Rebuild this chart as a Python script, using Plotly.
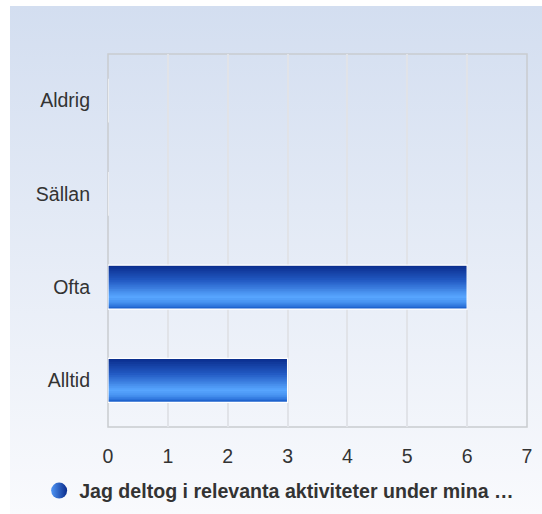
import base64
import plotly.graph_objects as go

categories = ["Aldrig", "Sällan", "Ofta", "Alltid"]
values = [0, 0, 6, 3]
series_name = "Jag deltog i relevanta aktiviteter under mina …"
x_ticks = [0, 1, 2, 3, 4, 5, 6, 7]

# gradient (top -> bottom of each bar)
grad_stops = [(0.0, (10, 44, 140)), (0.35, (34, 90, 195)), (0.72, (88, 166, 255)), (0.85, (70, 145, 240)), (1.0, (24, 92, 200))]


def grad_color(t):
    for (t0, c0), (t1, c1) in zip(grad_stops[:-1], grad_stops[1:]):
        if t0 <= t <= t1:
            f = (t - t0) / (t1 - t0) if t1 > t0 else 0
            c = [round(a + (b - a) * f) for a, b in zip(c0, c1)]
            return f"rgb({c[0]},{c[1]},{c[2]})"
    c = grad_stops[-1][1]
    return f"rgb({c[0]},{c[1]},{c[2]})"


bar_w = 0.47
n_strips = 24
step = bar_w / n_strips

fig = go.Figure()
for k in range(n_strips):
    ext = step * 0.6 if k < n_strips - 1 else 0
    fig.add_trace(go.Bar(
        y=categories, x=values, orientation="h",
        width=step + ext, offset=-bar_w / 2 + k * step,
        marker=dict(color=grad_color((k + 0.5) / n_strips), line=dict(width=0)),
        hoverinfo="skip", showlegend=False,
    ))

# outline bar (white border) carrying hover
fig.add_trace(go.Bar(
    y=categories, x=values, orientation="h", width=bar_w,
    marker=dict(color="rgba(0,0,0,0)", line=dict(color="white", width=1.2)),
    name=series_name, showlegend=False,
    hovertemplate="%{y}: %{x}<extra></extra>",
))

# legend entry with sphere-like marker
fig.add_trace(go.Scatter(
    x=[None], y=[None], mode="markers", name=series_name,
    marker=dict(symbol="circle", size=18, color="#4f95f5",
                line=dict(width=0),
                gradient=dict(type="horizontal", color="#0a2c8c")),
    showlegend=True,
))

svg = ('<svg xmlns="http://www.w3.org/2000/svg" width="100" height="100" preserveAspectRatio="none">'
       '<defs><linearGradient id="g" x1="0" y1="0" x2="0" y2="1">'
       '<stop offset="0" stop-color="#d3def0"/><stop offset="1" stop-color="#f9fafd"/>'
       '</linearGradient></defs><rect width="100" height="100" fill="url(#g)"/></svg>')
bg_src = "data:image/svg+xml;base64," + base64.b64encode(svg.encode()).decode()

W, H = 542, 514
ml, mr, mt, mb = 108, 15, 54, 87
pw, ph = W - ml - mr, H - mt - mb
FONT = "Liberation Sans, Arial, sans-serif"

fig.update_layout(
    width=W, height=H,
    margin=dict(l=ml, r=mr, t=mt, b=mb, pad=0, autoexpand=False),
    paper_bgcolor="white", plot_bgcolor="rgba(0,0,0,0)",
    barmode="overlay",
    font=dict(family=FONT, size=19.5, color="#333333"),
    images=[dict(source=bg_src, xref="paper", yref="paper",
                 x=(10 - ml) / pw, y=1 + (mt - 6) / ph,
                 sizex=(W - 10) / pw, sizey=(H - 6) / ph,
                 xanchor="left", yanchor="top", sizing="stretch", layer="below")],
    xaxis=dict(range=[0, 7], tickvals=x_ticks, ticktext=[str(v) for v in x_ticks],
               showgrid=True, gridcolor="#e1e3e8", gridwidth=1.5, zeroline=False,
               showline=False, ticks="", ticklabelstandoff=15, fixedrange=True,
               automargin=False),
    yaxis=dict(categoryorder="array", categoryarray=categories, autorange="reversed",
               showgrid=False, zeroline=False, showline=False, ticks="",
               ticklabelstandoff=17, fixedrange=True, automargin=False),
    shapes=[dict(type="rect", xref="paper", yref="paper", x0=0, x1=1, y0=0, y1=1,
                 line=dict(color="#c9cbcf", width=1.5), layer="below")],
    legend=dict(orientation="h", xref="container", yref="container",
                x=0.515, y=0.045, xanchor="center", yanchor="middle",
                font=dict(size=19.6, color="#333333", family=FONT, weight="bold"),
                bgcolor="rgba(0,0,0,0)", itemsizing="trace"),
    bargap=0.53,
)

fig.write_html("out.html", config={"displayModeBar": False},
               post_script="document.body.style.margin='0';document.body.style.padding='0';")
